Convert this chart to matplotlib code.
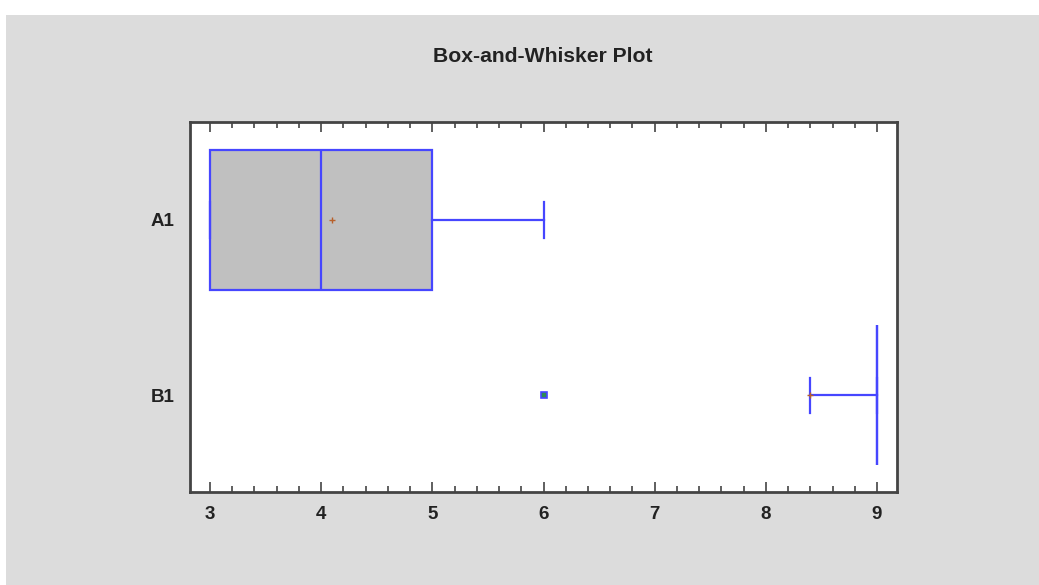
import matplotlib.pyplot as plt
from matplotlib.patches import Rectangle
from matplotlib.ticker import MultipleLocator

# groups, bottom to top
groups = ['B1', 'A1']
q1 = [9.0, 3.0]
med = [9.0, 4.0]
q3 = [9.0, 5.0]
whis_lo = [8.4, 3.0]
whis_hi = [9.0, 6.0]
means = [8.4, 4.1]
outliers = [[6.0], []]

x_ticks = [3, 4, 5, 6, 7, 8, 9]

BLUE = '#4646ff'
BG = '#dcdcdc'

fig = plt.figure(figsize=(10.39, 5.85), dpi=100)
fig.patch.set_facecolor('white')
fig.patches.append(Rectangle((6 / 1039, 0), 1, 1 - 15 / 585,
                             transform=fig.transFigure, facecolor=BG,
                             edgecolor='none', zorder=-10))

ax = fig.add_axes([190 / 1039, 1 - 492 / 585, 707 / 1039, 370 / 585])
ax.set_facecolor('white')

stats = []
for i, g in enumerate(groups):
    stats.append(dict(label=g, q1=q1[i], med=med[i], q3=q3[i],
                      whislo=whis_lo[i], whishi=whis_hi[i],
                      mean=means[i], fliers=outliers[i]))

ax.bxp(stats, positions=[0, 1], vert=False, widths=0.8, capwidths=0.2,
       patch_artist=True, showmeans=True, showfliers=True,
       boxprops=dict(facecolor='#c0c0c0', edgecolor=BLUE, linewidth=1.6),
       medianprops=dict(color=BLUE, linewidth=1.6),
       whiskerprops=dict(color=BLUE, linewidth=1.6),
       capprops=dict(color=BLUE, linewidth=1.6),
       meanprops=dict(marker='+', markeredgecolor='#b8602a',
                      markersize=5, markeredgewidth=1.0),
       flierprops=dict(marker='s', markerfacecolor='#2e8b57',
                       markeredgecolor=BLUE, markersize=5,
                       markeredgewidth=1.2))

ax.set_xlim(3 - 20 / 111.2, 9 + 20 / 111.2)
ax.set_ylim(-97 / 175, 1 + 98 / 175)

ax.set_xticks(x_ticks)
ax.set_xticklabels([str(t) for t in x_ticks], fontfamily='Liberation Sans',
                   fontweight='bold', fontsize=13.5, color='#222222')
ax.xaxis.set_minor_locator(MultipleLocator(0.2))
ax.tick_params(axis='x', which='both', direction='in', top=True,
               bottom=True, color='#444444', width=1.2)
ax.tick_params(axis='x', which='major', length=7, pad=10)
ax.tick_params(axis='x', which='minor', length=4)

ax.set_yticks([0, 1])
ax.set_yticklabels(groups, fontfamily='Liberation Sans', fontweight='bold',
                   fontsize=13.5, color='#222222')
ax.tick_params(axis='y', length=0, pad=11)

for s in ax.spines.values():
    s.set_color('#444444')
    s.set_linewidth(2)

fig.text(543 / 1039, 1 - 57 / 585, 'Box-and-Whisker Plot',
         fontfamily='Liberation Sans', fontweight='bold', fontsize=15.2,
         color='#222222', ha='center', va='center')

fig.savefig('out.png', dpi=100, facecolor=fig.get_facecolor())
